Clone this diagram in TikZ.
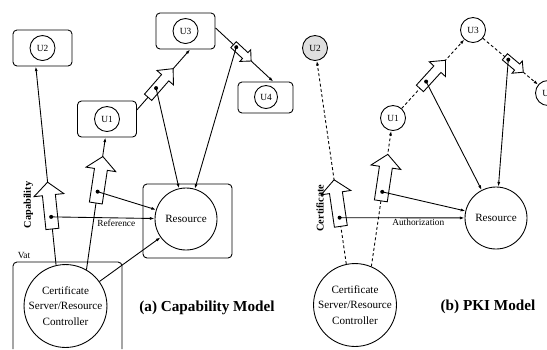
\documentclass[tikz,border=0pt]{standalone}
\usepackage{fontspec}
\setmainfont{Liberation Serif}
\usetikzlibrary{arrows.meta}

% hollow block arrow along x: half length, half shaft, half head, head length
\newcommand\blockarrow[4]{%
  \draw[solid, fill=white] (-#1,-#2) -- ({#1-#4},-#2) -- ({#1-#4},-#3) -- (#1,0)
    -- ({#1-#4},#3) -- ({#1-#4},#2) -- (-#1,#2) -- cycle;}

\begin{document}
\begin{tikzpicture}[x=0.3mm, y=0.3mm, line width=0.75pt, >={Latex[length=4pt,width=2.6pt]},
    user/.style = {draw, circle, minimum size=7.5mm, inner sep=0pt, font=\fontsize{8}{9}\selectfont},
    ubox/.style = {draw, rounded corners=1.2mm, minimum width=17.7mm, minimum height=10.8mm},
    res/.style = {draw, circle, minimum size=18.6mm, inner sep=0pt, font=\fontsize{9.5}{11}\selectfont},
    ctl/.style = {draw, circle, minimum size=23.4mm, inner sep=0pt, align=center, font=\fontsize{9.5}{13}\selectfont},
    lbl/.style = {inner sep=1pt, font=\fontsize{8}{9}\selectfont},
    side/.style = {rotate=90, inner sep=0pt, font=\fontsize{8.8}{10}\selectfont\bfseries},
    title/.style = {inner sep=0pt, font=\fontsize{13}{15}\selectfont\bfseries},
    bigarr/.pic = {\blockarrow{23.5}{6.5}{15}{13}},
    midarr/.pic = {\blockarrow{19}{4.8}{11}{12}},
    smallarr/.pic = {\blockarrow{12}{4}{8}{8}},
    certlink/.style = {dash pattern=on 2.5pt off 2pt}
    ]
    \useasboundingbox (0,0) rectangle (547,-349);

    % (a) capability model
    \node[ubox] (u2boxA) at (42.5,-48) {};
    \node[user] (u2A) at (42.5,-48) {U2};
    \node[ubox] (u1boxA) at (107,-119) {};
    \node[user] (u1A) at (107,-119) {U1};
    \node[ubox] (u3boxA) at (185.5,-31) {};
    \node[user] (u3A) at (185.5,-31) {U3};
    \node[ubox, minimum width=16.5mm, minimum height=9.3mm] (u4boxA) at (265.5,-97.5) {};
    \node[user, minimum size=6.9mm] (u4A) at (266,-97) {U4};

    \node[ubox, minimum width=26.7mm, minimum height=22.2mm] (resboxA) at (187.5,-221) {};
    \node[res] (resA) at (186,-219) {Resource};

    \draw[rounded corners=1.2mm] (13,-349) -- (13,-262) -- (122,-262) -- (122,-349);
    \node[lbl] (vatA) at (24,-255) {Vat};
    \node[ctl] (ctlA) at (65.5,-306) {Certificate\\Server/Resource\\Controller};

    \draw[->] (ctlA.103) to coordinate[pos=0.30] (capA1) coordinate[pos=0.243] (dA1) (u2boxA.250);
    \draw[->] (ctlA.60) to coordinate[pos=0.68] (capA2) coordinate[pos=0.59] (dA2) (u1boxA.265);
    \draw[->] (ctlA) to (resA);
    \draw[->] (u1boxA.17) to coordinate[pos=0.445] (capA3) coordinate[pos=0.36] (dA3) (u3boxA.284);
    \draw[->] (u3boxA.6) to coordinate[pos=0.465] (capA4) coordinate[pos=0.36] (dA4) (u4boxA.64);

    \pic[rotate=95.9] at (capA1) {bigarr};
    \pic[rotate=81.4] at (capA2) {bigarr};
    \pic[rotate=48.9] at (capA3) {midarr};
    \pic[rotate=-43] at (capA4) {smallarr};

    \draw[->] (dA1) to node[lbl, pos=0.63, below] (refA) {Reference} (resA);
    \draw[->] (dA2) to (resA);
    \draw[->] (dA3) to (resA);
    \draw[->] (dA4) to (resA);
    \foreach \d in {dA1,dA2,dA3,dA4}
        \fill (\d) circle[radius=0.6mm];

    \node[side] (capLbl) at (28.5,-205) {Capability};
    \node[title] (titleA) at (207,-308) {(a) Capability Model};

    % (b) pki model
    \node[user, fill=gray!25] (u2B) at (315,-48) {U2};
    \node[user] (u1B) at (393,-118) {U1};
    \node[user] (u3B) at (473,-30) {U3};
    \node[user] (u4B) at (548,-93) {U4};
    \node[res] (resB) at (496,-218) {Resource};
    \node[ctl, minimum size=24mm] (ctlB) at (355,-305) {Certificate\\Server/Resource\\Controller};

    \draw[certlink, ->] (ctlB.102) to coordinate[pos=0.30] (certB1) coordinate[pos=0.228] (dB1) (u2B);
    \draw[certlink, ->] (ctlB.67) to coordinate[pos=0.655] (certB2) coordinate[pos=0.55] (dB2) (u1B);
    \draw[certlink, ->] (u1B) to coordinate[pos=0.495] (certB3) coordinate[pos=0.39] (dB3) (u3B);
    \draw[certlink, ->] (u3B) to coordinate[pos=0.565] (certB4) coordinate[pos=0.46] (dB4) (u4B);

    \pic[rotate=98.3] at (certB1) {bigarr};
    \pic[rotate=81.5] at (certB2) {bigarr};
    \pic[rotate=47.7] at (certB3) {midarr};
    \pic[rotate=-40] at (certB4) {smallarr};

    \draw[->] (dB1) to node[lbl, pos=0.63, below] (authB) {Authorization} (resB);
    \draw[->] (dB2) to (resB);
    \draw[->] (dB3) to (resB);
    \draw[->] (dB4) to (resB);
    \foreach \d in {dB1,dB2,dB3,dB4}
        \fill (\d) circle[radius=0.6mm];

    \node[side] (certLbl) at (320,-208) {Certificate};
    \node[title] (titleB) at (488,-307) {(b) PKI Model};
\end{tikzpicture}
\end{document}
